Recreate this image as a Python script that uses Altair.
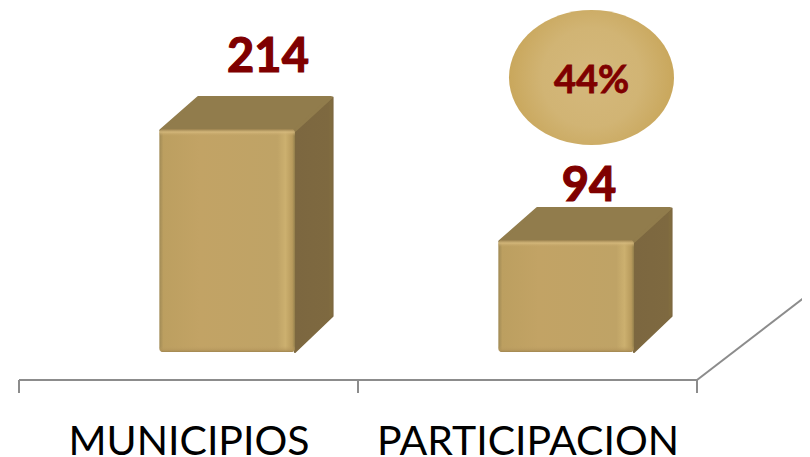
import altair as alt
import pandas as pd

# ---- values ----
categories = ["MUNICIPIOS", "PARTICIPACION"]
values = [214, 94]
share_label = "44%"
share_category = 1

# ---- scale set-up (x in category units, y in value units) ----
W, H = 794, 449
PX_PER_CAT = 339.0
PX_PER_VAL = 0.925
x_dom = [(8 - 19) / PX_PER_CAT, (8 + W - 19) / PX_PER_CAT]
def vy(p):  # page pixel row -> value units
    return 214 + (129 - p) / PX_PER_VAL
y_dom = [vy(457), vy(8)]
xs = alt.Scale(domain=x_dom, range=[0, W], nice=False, zero=False)
ys = alt.Scale(domain=y_dom, range=[H, 0], nice=False, zero=False)
X = lambda f="x": alt.X(f"{f}:Q", scale=xs, axis=None)
Y = lambda f="y": alt.Y(f"{f}:Q", scale=ys, axis=None)

FRONT_L, BAR_W = 0.414, 0.40
DX = 0.111
DY = 33 / PX_PER_VAL
BASE = vy(352)
AXIS = vy(380)
TICK = vy(393)

front, tops, sides, rim_t, rim_b = [], [], [], [], []
for i, v in enumerate(values):
    l, r = i + FRONT_L, i + FRONT_L + BAR_W
    front.append({"x": l, "x2": r, "y": v, "y2": BASE})
    rim_t.append({"x": l, "x2": r, "y": v, "y2": v - 7 / PX_PER_VAL})
    rim_b.append({"x": l, "x2": r, "y": BASE + 6 / PX_PER_VAL, "y2": BASE})
    i_x = 1.5 / PX_PER_CAT
    i_y = 1.5 / PX_PER_VAL
    tops += [
        {"b": i, "y": v - i_y, "x": l + i_x, "x2": r},
        {"b": i, "y": v + DY - i_y, "x": l + DX + i_x, "x2": r + DX - i_x},
    ]
    sides += [
        {"b": i, "x": r, "y": v, "y2": BASE},
        {"b": i, "x": r + DX, "y": v + DY - i_y, "y2": BASE + DY + 3 / PX_PER_VAL},
    ]

def stops(*pairs):
    return [alt.GradientStop(offset=o, color=c) for o, c in pairs]

grad_h = alt.LinearGradient(
    gradient="linear", x1=0, x2=1, y1=0, y2=0,
    stops=stops((0, "#a08a55"), (0.03, "#bc9f60"), (0.3, "#c2a365"), (0.87, "#bfa366"),
                (0.93, "#ccb06f"), (0.98, "#b89b5d"), (1, "#94804c")),
)
grad_rim_t = alt.LinearGradient(
    gradient="linear", x1=0, x2=0, y1=0, y2=1,
    stops=stops((0, "rgba(150,125,75,1)"), (0.45, "rgba(216,188,128,0.75)"), (1, "rgba(195,165,104,0)")),
)
grad_rim_b = alt.LinearGradient(
    gradient="linear", x1=0, x2=0, y1=0, y2=1,
    stops=stops((0, "rgba(190,160,100,0)"), (0.7, "rgba(178,148,90,0.7)"), (1, "rgba(160,134,80,1)")),
)
grad_side = alt.LinearGradient(
    gradient="linear", x1=0, x2=1, y1=0, y2=0,
    stops=stops((0, "#7c6740"), (0.9, "#7e6940"), (1, "#84703f")),
)
grad_ell = alt.RadialGradient(
    gradient="radial", x1=0.5, y1=0.5, x2=0.5, y2=0.5, r1=0, r2=0.5,
    stops=stops((0, "#d4b87c"), (0.6, "#d1b474"), (1, "#c9a75c")),
)

df = lambda rows: alt.Data(values=rows)

layers = []
# axis
AX_C = "#8c8c8c"
layers.append(alt.Chart(df([{"x": 0, "x2": 2, "y": AXIS}])).mark_rule(color=AX_C, strokeWidth=2).encode(
    x=X(), x2="x2:Q", y=Y()))
layers.append(alt.Chart(df([{"x": i, "y": AXIS, "y2": TICK} for i in range(3)])).mark_rule(color=AX_C, strokeWidth=2).encode(
    x=X(), y=Y(), y2="y2:Q"))
layers.append(alt.Chart(df([{"x": 2, "y": AXIS}, {"x": (810 - 19) / PX_PER_CAT, "y": vy(293)}])).mark_line(color=AX_C, strokeWidth=2).encode(
    x=X(), y=Y()))

# bar faces
layers.append(alt.Chart(df(sides)).mark_area(color=grad_side, stroke="#7e6940", strokeWidth=2, strokeJoin="round", interpolate="linear").encode(
    x=X(), y=Y(), y2="y2:Q", detail="b:N"))
layers.append(alt.Chart(df(tops)).mark_area(color="#917c4c", orient="horizontal", stroke="#917c4c", strokeWidth=3, strokeJoin="round", interpolate="linear").encode(
    y=Y(), x=X(), x2="x2:Q", detail="b:N"))
layers.append(alt.Chart(df(front)).mark_rect(color=grad_h, cornerRadius=4).encode(
    x=X(), x2="x2:Q", y=Y(), y2="y2:Q"))
layers.append(alt.Chart(df(rim_t)).mark_rect(color=grad_rim_t, cornerRadiusTopLeft=4, cornerRadiusTopRight=4).encode(
    x=X(), x2="x2:Q", y=Y(), y2="y2:Q"))
layers.append(alt.Chart(df(rim_b)).mark_rect(color=grad_rim_b, cornerRadiusBottomLeft=4, cornerRadiusBottomRight=4).encode(
    x=X(), x2="x2:Q", y=Y(), y2="y2:Q"))

# share ellipse
ell_x = (591.5 - 19) / PX_PER_CAT
ell_y = vy(77.5)
ELL_W = 165
layers.append(alt.Chart(df([{"x": ell_x, "y": ell_y}])).mark_point(
    shape="M-1,0A1,0.818,0,1,1,1,0A1,0.818,0,1,1,-1,0Z",
    filled=True, fill=grad_ell, opacity=1, size=ELL_W ** 2, strokeWidth=0,
).encode(x=X(), y=Y()))

# texts
FONT = "Lato"
RED = "#7f0000"
value_offsets = [(268, 72), (589, 201)]
layers.append(alt.Chart(df([
    {"x": (value_offsets[i][0] - 19) / PX_PER_CAT, "y": vy(value_offsets[i][1]), "t": str(v)}
    for i, v in enumerate(values)
])).mark_text(font=FONT, fontWeight="bold", fontSize=47, color=RED, stroke=RED, strokeWidth=1.2, align="center", baseline="alphabetic").encode(
    x=X(), y=Y(), text="t:N"))
layers.append(alt.Chart(df([{"x": ell_x, "y": vy(93), "t": share_label}])).mark_text(
    font=FONT, fontWeight="bold", fontSize=38, color=RED, stroke=RED, strokeWidth=0.8, align="center", baseline="alphabetic").encode(
    x=X(), y=Y(), text="t:N"))
cat_x = [189, 528]
layers.append(alt.Chart(df([
    {"x": (cat_x[i] - 19) / PX_PER_CAT, "y": vy(455), "t": c} for i, c in enumerate(categories)
])).mark_text(font=FONT, fontSize=41, color="#000000", align="center", baseline="alphabetic").encode(
    x=X(), y=Y(), text="t:N"))

chart = alt.layer(*layers).properties(
    width=W, height=H, padding=0, autosize=alt.AutoSizeParams(type="none"),
    background="white",
).configure_view(stroke=None)

chart.save("out.html", embed_options={"renderer": "svg", "actions": False})
